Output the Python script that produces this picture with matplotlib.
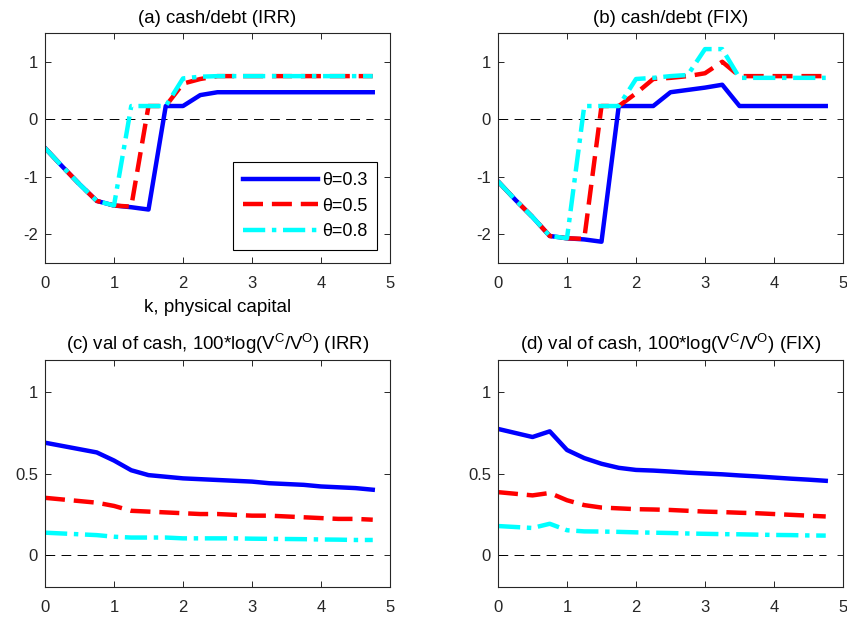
import numpy as np
import matplotlib
matplotlib.use("Agg")
import matplotlib.pyplot as plt

plt.rcParams['font.family'] = ['Liberation Sans', 'DejaVu Sans']
plt.rcParams['mathtext.default'] = 'regular'
plt.rcParams['font.size'] = 12

# grid of physical capital
k = np.arange(20) * 0.25

# (a) cash/debt, IRR
a_03 = [-0.5, -0.82, -1.13, -1.42, -1.5, -1.53, -1.57, 0.23, 0.23, 0.42, 0.47, 0.47,
        0.47, 0.47, 0.47, 0.47, 0.47, 0.47, 0.47, 0.47]
a_05 = [-0.5, -0.82, -1.13, -1.42, -1.5, -1.52, 0.23, 0.23, 0.62, 0.7, 0.75, 0.75,
        0.75, 0.75, 0.75, 0.75, 0.75, 0.75, 0.75, 0.75]
a_08 = [-0.5, -0.82, -1.13, -1.42, -1.5, 0.23, 0.23, 0.23, 0.71, 0.74, 0.75, 0.75,
        0.75, 0.75, 0.75, 0.75, 0.75, 0.75, 0.75, 0.75]

# (b) cash/debt, FIX
b_03 = [-1.08, -1.4, -1.7, -2.03, -2.07, -2.09, -2.13, 0.23, 0.23, 0.23, 0.47, 0.51,
        0.55, 0.6, 0.23, 0.23, 0.23, 0.23, 0.23, 0.23]
b_05 = [-1.08, -1.4, -1.7, -2.03, -2.07, -2.08, 0.23, 0.23, 0.45, 0.7, 0.72, 0.75,
        0.8, 1.0, 0.75, 0.75, 0.75, 0.75, 0.75, 0.75]
b_08 = [-1.08, -1.4, -1.7, -2.03, -2.07, 0.23, 0.23, 0.23, 0.7, 0.72, 0.75, 0.77,
        1.22, 1.22, 0.72, 0.72, 0.72, 0.72, 0.72, 0.72]

# (c) value of cash, IRR
c_03 = [0.69, 0.67, 0.65, 0.63, 0.58, 0.52, 0.49, 0.48, 0.47, 0.465, 0.46, 0.455,
        0.45, 0.44, 0.435, 0.43, 0.42, 0.415, 0.41, 0.40]
c_05 = [0.35, 0.34, 0.33, 0.32, 0.30, 0.27, 0.265, 0.26, 0.255, 0.25, 0.25, 0.245,
        0.24, 0.24, 0.235, 0.23, 0.225, 0.22, 0.22, 0.215]
c_08 = [0.135, 0.13, 0.125, 0.12, 0.11, 0.105, 0.105, 0.105, 0.10, 0.10, 0.10, 0.10,
        0.098, 0.097, 0.096, 0.095, 0.093, 0.092, 0.09, 0.09]

# (d) value of cash, FIX
d_03 = [0.775, 0.75, 0.725, 0.76, 0.645, 0.595, 0.56, 0.535, 0.522, 0.518, 0.512, 0.505,
        0.5, 0.495, 0.488, 0.482, 0.475, 0.468, 0.462, 0.455]
d_05 = [0.385, 0.375, 0.365, 0.38, 0.335, 0.305, 0.29, 0.285, 0.28, 0.278, 0.275, 0.27,
        0.265, 0.262, 0.258, 0.255, 0.25, 0.245, 0.24, 0.235]
d_08 = [0.176, 0.17, 0.164, 0.19, 0.15, 0.143, 0.142, 0.14, 0.137, 0.135, 0.133, 0.13,
        0.128, 0.126, 0.125, 0.123, 0.121, 0.12, 0.118, 0.117]

labels = ['θ=0.3', 'θ=0.5', 'θ=0.8']
titles = ['(a) cash/debt (IRR)', '(b) cash/debt (FIX)',
          '(c) val of cash, 100*log(V$^{C}$/V$^{O}$) (IRR)',
          '(d) val of cash, 100*log(V$^{C}$/V$^{O}$) (FIX)']
series = [(a_03, a_05, a_08), (b_03, b_05, b_08), (c_03, c_05, c_08), (d_03, d_05, d_08)]
ylims = [(-2.5, 1.5), (-2.5, 1.5), (-0.2, 1.2), (-0.2, 1.2)]
yticks = [[-2, -1, 0, 1], [-2, -1, 0, 1], [0, 0.5, 1], [0, 0.5, 1]]
yticklabels = [['-2', '-1', '0', '1'], ['-2', '-1', '0', '1'], ['0', '0.5', '1'], ['0', '0.5', '1']]

W, H = 847, 620
boxes = [(45, 33, 390, 263), (498, 33, 843, 263), (45, 360, 390, 587), (498, 360, 843, 587)]

fig = plt.figure(figsize=(W / 100, H / 100), dpi=100)
for i in range(4):
    l, t, r, b = boxes[i]
    ax = fig.add_axes([l / W, 1 - b / H, (r - l) / W, (b - t) / H])
    s1, s2, s3 = series[i]
    ax.plot(k, np.zeros(len(k)), color='k', lw=0.7, ls=(0, (10, 6.5)))
    ax.plot(k, s1, color=(0, 0, 1), lw=3.2, label=labels[0])
    ax.plot(k, s2, color=(1, 0, 0), lw=3.2, ls=(0, (4.5, 2)), label=labels[1])
    ax.plot(k, s3, color=(0, 1, 1), lw=3.2, ls=(0, (5, 1.5, 1, 1.5)), label=labels[2])
    ax.set_xlim(0, 5)
    ax.set_ylim(*ylims[i])
    ax.set_xticks([0, 1, 2, 3, 4, 5])
    ax.set_yticks(yticks[i])
    ax.set_yticklabels(yticklabels[i])
    ax.tick_params(direction='in', top=True, right=True, length=4, width=0.7,
                   labelsize=12, colors='#262626')
    ax.tick_params(axis='x', pad=9)
    ax.tick_params(axis='y', pad=5)
    for sp in ax.spines.values():
        sp.set_linewidth(0.8)
        sp.set_color('#262626')
    ax.set_title(titles[i], fontsize=13.4, pad=7)
    if i == 0:
        ax.set_xlabel('k, physical capital', fontsize=13.6, labelpad=6)
        leg = ax.legend(loc='lower right', fontsize=13, handlelength=4.2, handletextpad=0.2,
                        fancybox=False, edgecolor='k', framealpha=1, borderaxespad=0.7,
                        labelspacing=0.48, borderpad=0.55)
        leg.get_frame().set_linewidth(0.8)

fig.savefig('out.png', dpi=100)
